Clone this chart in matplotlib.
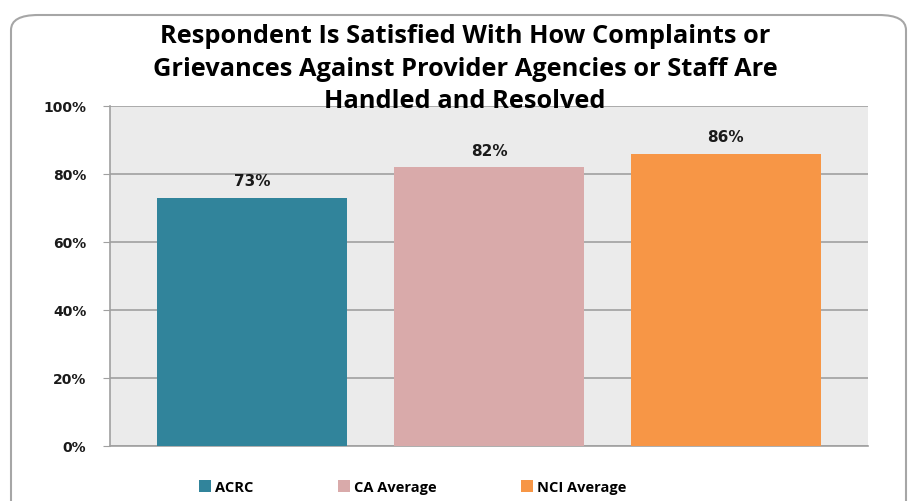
import matplotlib.pyplot as plt
from matplotlib.patches import FancyBboxPatch, Patch

# chart data
categories = ['ACRC', 'CA Average', 'NCI Average']
values = [73, 82, 86]
colors = ['#31849B', '#D9AAAA', '#F79646']
yticks = [0, 20, 40, 60, 80, 100]

plt.rcParams['font.family'] = ['Open Sans', 'DejaVu Sans']

fig = plt.figure(figsize=(9.09, 5.02), dpi=100)
fig.patch.set_facecolor('white')

# rounded outer frame
frame = FancyBboxPatch((11 / 909, -0.05), 895 / 909, (494 - 8) / 502 + 0.05,
                       boxstyle='round,pad=0,rounding_size=0.03',
                       transform=fig.transFigure, fill=False,
                       edgecolor='#A6A6A6', linewidth=1.5)
fig.patches.append(frame)

ax = fig.add_axes([110 / 909, 55 / 502, 758 / 909, 340 / 502])
ax.set_facecolor('#EBEBEB')

x = range(len(categories))
bars = ax.bar(x, values, width=0.8, color=colors, zorder=3)

for xi, v in zip(x, values):
    ax.text(xi, v + 5, f'{v}%', ha='center', va='center',
            fontsize=11, fontweight='bold', color='#1a1a1a',
            family='DejaVu Sans')

ax.set_xlim(-0.6, 2.6)
ax.set_ylim(0, 100)
ax.set_yticks(yticks)
ax.set_yticklabels([f'{t}%' for t in yticks], fontsize=10, fontweight='bold',
                   family='DejaVu Sans', color='#1a1a1a')
ax.set_xticks([])
ax.yaxis.grid(True, color='#A0A0A0', linewidth=1.2, zorder=1)
ax.tick_params(axis='y', length=5, color='#A0A0A0', pad=12)
for s in ['top', 'right']:
    ax.spines[s].set_visible(False)
for s in ['left', 'bottom']:
    ax.spines[s].set_color('#A0A0A0')
    ax.spines[s].set_linewidth(1.2)

fig.text(465 / 909, 1 - 69 / 502,
         'Respondent Is Satisfied With How Complaints or\n'
         'Grievances Against Provider Agencies or Staff Are\n'
         'Handled and Resolved',
         ha='center', va='center', fontsize=18.3, fontweight='bold',
         linespacing=1.38, color='black')

handles = [Patch(facecolor=c, edgecolor='none') for c in colors]
fig.legend(handles, categories, loc='center', ncol=3,
           bbox_to_anchor=(413 / 909, 1 - 488 / 502), frameon=False,
           prop={'size': 10.5, 'weight': 'bold'}, handlelength=0.8,
           handleheight=0.8, handletextpad=0.3, columnspacing=5.8)

fig.savefig('out.png', dpi=100)
